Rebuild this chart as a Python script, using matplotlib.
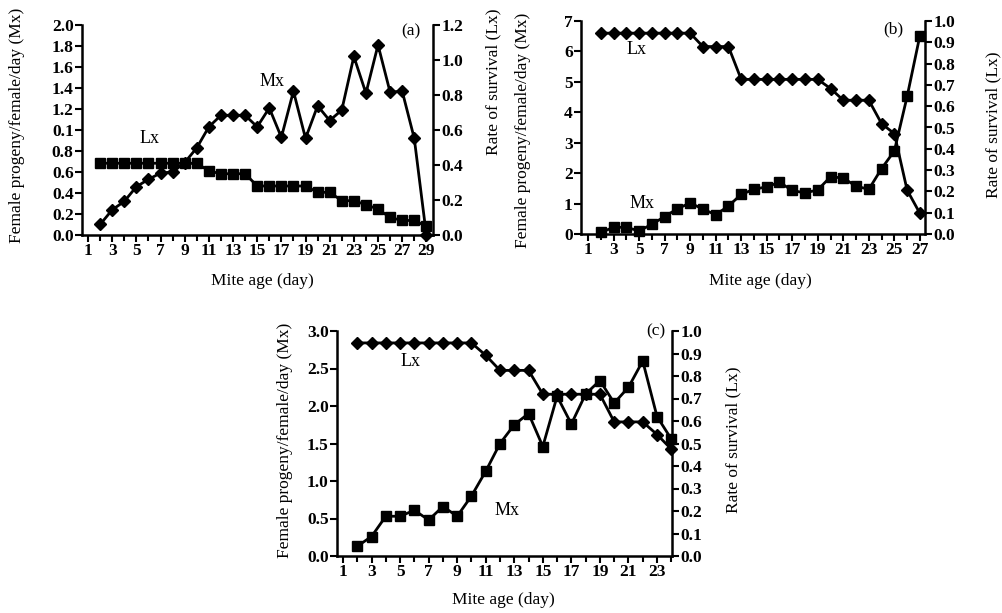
import numpy as np
import matplotlib
matplotlib.use("Agg")
import matplotlib.pyplot as plt
from matplotlib.ticker import MultipleLocator, FixedLocator, FixedFormatter

plt.rcParams['font.family'] = ['Liberation Serif', 'DejaVu Serif']
plt.rcParams['font.size'] = 12.5

# (a) days 2..29
days_a = list(range(2, 30))
mx_a = [0.10, 0.24, 0.32, 0.46, 0.53, 0.59, 0.60, 0.69, 0.83, 1.03, 1.14, 1.14, 1.14,
        1.03, 1.21, 0.93, 1.37, 0.92, 1.23, 1.09, 1.19, 1.70, 1.35, 1.81, 1.36, 1.37,
        0.92, 0.00]
lx_a = [0.41, 0.41, 0.41, 0.41, 0.41, 0.41, 0.41, 0.41, 0.41, 0.366, 0.35, 0.35, 0.35,
        0.28, 0.28, 0.28, 0.28, 0.28, 0.244, 0.244, 0.196, 0.196, 0.173, 0.148, 0.10,
        0.083, 0.083, 0.05]

# (b) days 2..27
days_b = list(range(2, 28))
lx_b = [0.943] * 8 + [0.88, 0.88, 0.88] + [0.726] * 7 + [0.683, 0.628, 0.628, 0.628,
        0.518, 0.471, 0.206, 0.097]
mx_b = [0.05, 0.22, 0.22, 0.10, 0.32, 0.57, 0.83, 1.02, 0.82, 0.63, 0.92, 1.30, 1.47,
        1.55, 1.70, 1.43, 1.35, 1.45, 1.88, 1.84, 1.57, 1.47, 2.15, 2.73, 4.52, 6.52]

# (c) days 2..24
days_c = list(range(2, 25))
lx_c = [0.947] * 9 + [0.892, 0.825, 0.825, 0.825] + [0.719] * 5 + [0.596, 0.596, 0.596,
        0.54, 0.475]
mx_c = [0.13, 0.26, 0.53, 0.53, 0.61, 0.48, 0.66, 0.53, 0.80, 1.13, 1.50, 1.75, 1.90,
        1.46, 2.13, 1.76, 2.16, 2.34, 2.04, 2.25, 2.60, 1.86, 1.56]

W, H = 1002, 613
fig = plt.figure(figsize=(W / 100, H / 100), dpi=100)


def box(l, t, r, b):
    return [l / W, 1 - b / H, (r - l) / W, (b - t) / H]


def style(ax, side):
    for s in ['top', 'left', 'right', 'bottom']:
        ax.spines[s].set_visible(False)
    ax.spines[side].set_visible(True)
    ax.spines[side].set_linewidth(1.8)
    if side == 'left':
        ax.spines['bottom'].set_visible(True)
        ax.spines['bottom'].set_linewidth(1.8)
    ax.tick_params(which='both', direction='out', width=1.5, length=5,
                   labelsize=12.5, pad=1)
    ax.tick_params(which='minor', length=4)


def panel(rect, xmax_lim, xticks_max, left_ticks, left_labels, right_ticks,
          right_labels, diamonds_x, diamonds_y, diamonds_on_left,
          squares_x, squares_y, squares_on_left):
    ax = fig.add_axes(rect)
    ax2 = ax.twinx()
    style(ax, 'left')
    style(ax2, 'right')
    ax.set_xlim(xmax_lim)
    ax.set_ylim(left_ticks[0], left_ticks[-1])
    ax2.set_ylim(right_ticks[0], right_ticks[-1])
    ax.xaxis.set_major_locator(FixedLocator(list(range(1, xticks_max + 1, 2))))
    ax.xaxis.set_minor_locator(MultipleLocator(1))
    ax.yaxis.set_major_locator(FixedLocator(left_ticks))
    ax.yaxis.set_major_formatter(FixedFormatter(left_labels))
    ax2.yaxis.set_major_locator(FixedLocator(right_ticks))
    ax2.yaxis.set_major_formatter(FixedFormatter(right_labels))
    for lab in ax.get_xticklabels() + ax.get_yticklabels() + ax2.get_yticklabels():
        lab.set_fontweight('bold')
    dax = ax if diamonds_on_left else ax2
    sax = ax if squares_on_left else ax2
    dax.plot(diamonds_x, diamonds_y, color='black', lw=2, marker='D', ms=6.5,
             clip_on=False, zorder=5)
    sax.plot(squares_x, squares_y, color='black', lw=2, marker='s', ms=7,
             clip_on=False, zorder=5)
    return ax, ax2


def fmt(vals, d):
    return [f"{v:.{d}f}" for v in vals]


# panel (a)
lt_a = [0.0, 0.2, 0.4, 0.6, 0.8, 1.0, 1.2, 1.4, 1.6, 1.8, 2.0]
ll_a = fmt(lt_a, 1)
ll_a[5] = "0.1"
rt_a = [0.0, 0.2, 0.4, 0.6, 0.8, 1.0, 1.2]
ax_a, ax_a2 = panel(box(82, 25, 433, 235), (0.5, 29.55), 29, lt_a, ll_a, rt_a, fmt(rt_a, 1),
                    days_a, mx_a, True, days_a, lx_a, False)
ax_a.text(6.1, 0.92, "Lx", ha='center', va='center', fontsize=13)
ax_a.text(16.2, 1.46, "Mx", ha='center', va='center', fontsize=13)
ax_a.text(27.7, 1.94, "(a)", ha='center', va='center', fontsize=12.5)

# panel (b)
lt_b = [0, 1, 2, 3, 4, 5, 6, 7]
rt_b = [i / 10 for i in range(11)]
ax_b, ax_b2 = panel(box(581, 21, 925, 234), (0.45, 27.4), 27, lt_b, [str(v) for v in lt_b],
                    rt_b, fmt(rt_b, 1), days_b, lx_b, False, days_b, mx_b, True)
ax_b.text(4.8, 6.05, "Lx", ha='center', va='center', fontsize=13)
ax_b.text(5.2, 1.0, "Mx", ha='center', va='center', fontsize=13)
ax_b.text(24.9, 6.74, "(b)", ha='center', va='center', fontsize=12.5)

# panel (c)
lt_c = [0.0, 0.5, 1.0, 1.5, 2.0, 2.5, 3.0]
rt_c = [i / 10 for i in range(11)]
ax_c, ax_c2 = panel(box(337, 331, 672, 556), (0.58, 24.05), 23, lt_c, fmt(lt_c, 1),
                    rt_c, fmt(rt_c, 1), days_c, lx_c, False, days_c, mx_c, True)
ax_c.text(5.7, 2.59, "Lx", ha='center', va='center', fontsize=13)
ax_c.text(12.5, 0.61, "Mx", ha='center', va='center', fontsize=13)
ax_c.text(22.9, 2.99, "(c)", ha='center', va='center', fontsize=12.5)

# axis titles
ylab = "Female progeny/female/day (Mx)"
rlab = "Rate of survival (Lx)"
fig.text(17 / W, 1 - 125 / H, ylab, rotation=90, ha='center', va='center')
fig.text(493 / W, 1 - 82 / H, rlab, rotation=90, ha='center', va='center')
fig.text(523 / W, 1 - 130 / H, ylab, rotation=90, ha='center', va='center')
fig.text(993 / W, 1 - 125 / H, rlab, rotation=90, ha='center', va='center')
fig.text(285 / W, 1 - 440 / H, ylab, rotation=90, ha='center', va='center')
fig.text(733 / W, 1 - 440 / H, rlab, rotation=90, ha='center', va='center')
fig.text(262 / W, 1 - 281 / H, "Mite age (day)", ha='center', va='center')
fig.text(760 / W, 1 - 281 / H, "Mite age (day)", ha='center', va='center')
fig.text(503 / W, 1 - 600 / H, "Mite age (day)", ha='center', va='center')

fig.savefig("out.png", dpi=100)
